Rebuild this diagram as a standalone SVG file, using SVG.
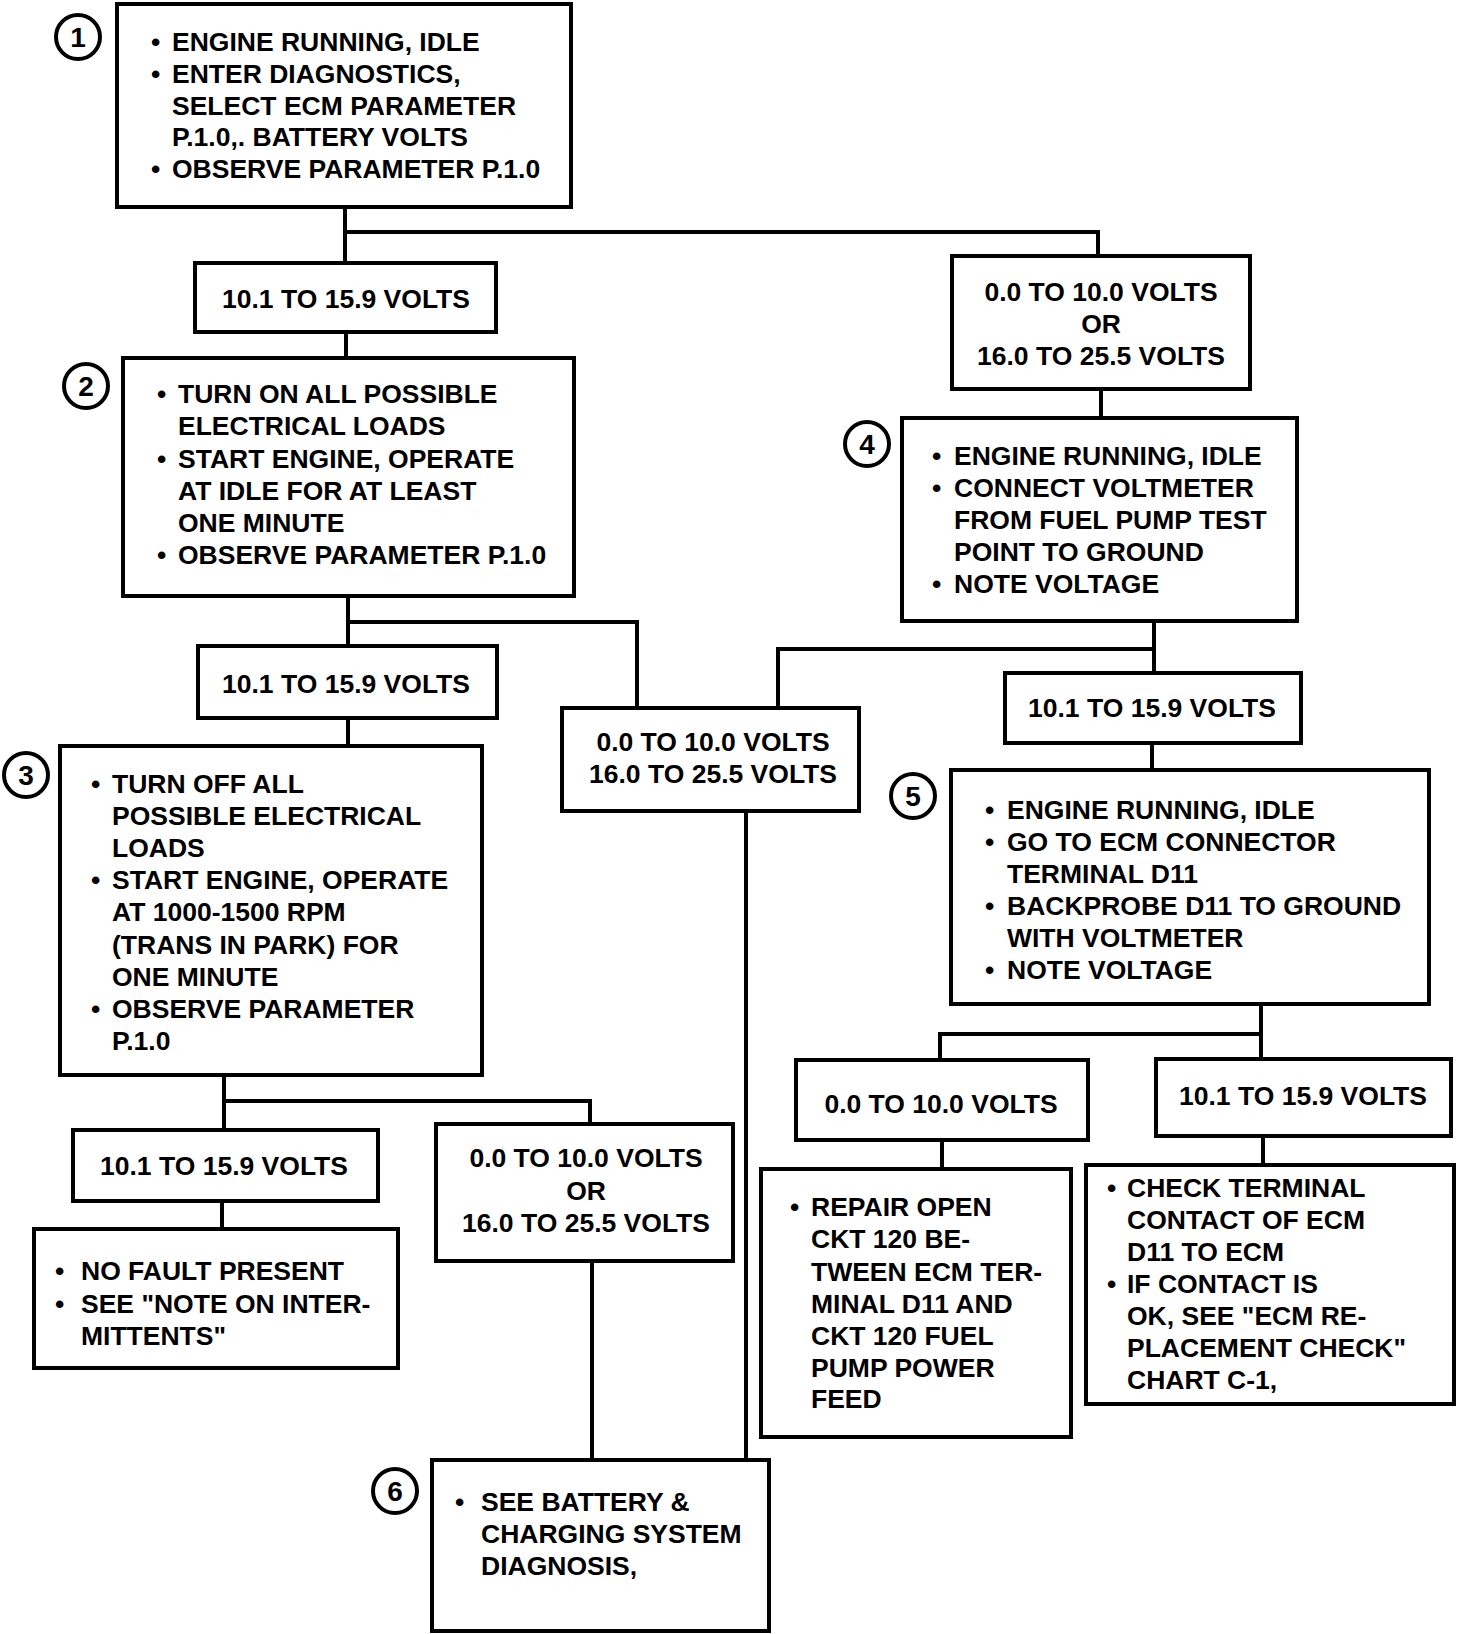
<svg xmlns="http://www.w3.org/2000/svg" width="1472" height="1634" viewBox="0 0 1472 1634">
<style>
.box{fill:#fff;stroke:#000;stroke-width:4}
.t{font-family:"Liberation Sans",Arial,sans-serif;font-weight:bold;font-size:26.5px;fill:#000}
.c{text-anchor:middle}
.num{fill:#fff;stroke:#000;stroke-width:4}
.nt{font-family:"Liberation Sans",Arial,sans-serif;font-weight:bold;font-size:28px;fill:#000;text-anchor:middle}
.ln{fill:none;stroke:#000;stroke-width:4}
</style>
<rect width="1472" height="1634" fill="#fff"/>
<g id="connectors">
<polyline class="ln" points="345,207 345,263"/>
<polyline class="ln" points="345,232 1098,232 1098,256"/>
<polyline class="ln" points="346,332 346,358"/>
<polyline class="ln" points="1101,389 1101,418"/>
<polyline class="ln" points="348,596 348,646"/>
<polyline class="ln" points="348,622 637,622 637,708"/>
<polyline class="ln" points="348,718 348,746"/>
<polyline class="ln" points="1154,621 1154,673"/>
<polyline class="ln" points="1154,649 778,649 778,708"/>
<polyline class="ln" points="1152,743 1152,770"/>
<polyline class="ln" points="746,811 746,1460"/>
<polyline class="ln" points="224,1075 224,1130"/>
<polyline class="ln" points="224,1101 590,1101 590,1124"/>
<polyline class="ln" points="222,1201 222,1229"/>
<polyline class="ln" points="592,1261 592,1460"/>
<polyline class="ln" points="1261,1004 1261,1059"/>
<polyline class="ln" points="1261,1034 940,1034 940,1060"/>
<polyline class="ln" points="942,1140 942,1169"/>
<polyline class="ln" points="1263,1136 1263,1165"/>
</g>
<g id="node1">
<rect class="box" x="117" y="4" width="454" height="203"/>
<circle class="num" cx="78" cy="37" r="22"/><text class="nt" x="78" y="47">1</text>
<text class="t" x="151" y="51">•</text><text class="t" x="172" y="51">ENGINE RUNNING, IDLE</text>
<text class="t" x="151" y="83">•</text><text class="t" x="172" y="83">ENTER DIAGNOSTICS,</text>
<text class="t" x="172" y="115">SELECT ECM PARAMETER</text>
<text class="t" x="172" y="146">P.1.0,. BATTERY VOLTS</text>
<text class="t" x="151" y="178">•</text><text class="t" x="172" y="178">OBSERVE PARAMETER P.1.0</text>
</g>
<g id="nodeA">
<rect class="box" x="195" y="263" width="301" height="69"/>
<text class="t c" x="346" y="308">10.1 TO 15.9 VOLTS</text>
</g>
<g id="nodeB">
<rect class="box" x="952" y="256" width="298" height="133"/>
<text class="t c" x="1101" y="301">0.0 TO 10.0 VOLTS</text>
<text class="t c" x="1101" y="333">OR</text>
<text class="t c" x="1101" y="365">16.0 TO 25.5 VOLTS</text>
</g>
<g id="node2">
<rect class="box" x="123" y="358" width="451" height="238"/>
<circle class="num" cx="86" cy="386" r="22"/><text class="nt" x="86" y="396">2</text>
<text class="t" x="157" y="403">•</text><text class="t" x="178" y="403">TURN ON ALL POSSIBLE</text>
<text class="t" x="178" y="435">ELECTRICAL LOADS</text>
<text class="t" x="157" y="468">•</text><text class="t" x="178" y="468">START ENGINE, OPERATE</text>
<text class="t" x="178" y="500">AT IDLE FOR AT LEAST</text>
<text class="t" x="178" y="532">ONE MINUTE</text>
<text class="t" x="157" y="564">•</text><text class="t" x="178" y="564">OBSERVE PARAMETER P.1.0</text>
</g>
<g id="node4">
<rect class="box" x="902" y="418" width="395" height="203"/>
<circle class="num" cx="867" cy="444" r="22"/><text class="nt" x="867" y="454">4</text>
<text class="t" x="932" y="465">•</text><text class="t" x="954" y="465">ENGINE RUNNING, IDLE</text>
<text class="t" x="932" y="497">•</text><text class="t" x="954" y="497">CONNECT VOLTMETER</text>
<text class="t" x="954" y="529">FROM FUEL PUMP TEST</text>
<text class="t" x="954" y="561">POINT TO GROUND</text>
<text class="t" x="932" y="593">•</text><text class="t" x="954" y="593">NOTE VOLTAGE</text>
</g>
<g id="nodeC">
<rect class="box" x="198" y="646" width="299" height="72"/>
<text class="t c" x="346" y="693">10.1 TO 15.9 VOLTS</text>
</g>
<g id="nodeD">
<rect class="box" x="562" y="708" width="297" height="103"/>
<text class="t c" x="713" y="751">0.0 TO 10.0 VOLTS</text>
<text class="t c" x="713" y="783">16.0 TO 25.5 VOLTS</text>
</g>
<g id="nodeE">
<rect class="box" x="1005" y="673" width="296" height="70"/>
<text class="t c" x="1152" y="717">10.1 TO 15.9 VOLTS</text>
</g>
<g id="node3">
<rect class="box" x="60" y="746" width="422" height="329"/>
<circle class="num" cx="26" cy="775" r="22"/><text class="nt" x="26" y="785">3</text>
<text class="t" x="91" y="793">•</text><text class="t" x="112" y="793">TURN OFF ALL</text>
<text class="t" x="112" y="825">POSSIBLE ELECTRICAL</text>
<text class="t" x="112" y="857">LOADS</text>
<text class="t" x="91" y="889">•</text><text class="t" x="112" y="889">START ENGINE, OPERATE</text>
<text class="t" x="112" y="921">AT 1000-1500 RPM</text>
<text class="t" x="112" y="954">(TRANS IN PARK) FOR</text>
<text class="t" x="112" y="986">ONE MINUTE</text>
<text class="t" x="91" y="1018">•</text><text class="t" x="112" y="1018">OBSERVE PARAMETER</text>
<text class="t" x="112" y="1050">P.1.0</text>
</g>
<g id="node5">
<rect class="box" x="951" y="770" width="478" height="234"/>
<circle class="num" cx="913" cy="796" r="22"/><text class="nt" x="913" y="806">5</text>
<text class="t" x="985" y="819">•</text><text class="t" x="1007" y="819">ENGINE RUNNING, IDLE</text>
<text class="t" x="985" y="851">•</text><text class="t" x="1007" y="851">GO TO ECM CONNECTOR</text>
<text class="t" x="1007" y="883">TERMINAL D11</text>
<text class="t" x="985" y="915">•</text><text class="t" x="1007" y="915">BACKPROBE D11 TO GROUND</text>
<text class="t" x="1007" y="947">WITH VOLTMETER</text>
<text class="t" x="985" y="979">•</text><text class="t" x="1007" y="979">NOTE VOLTAGE</text>
</g>
<g id="nodeF">
<rect class="box" x="796" y="1060" width="292" height="80"/>
<text class="t c" x="941" y="1113">0.0 TO 10.0 VOLTS</text>
</g>
<g id="nodeG">
<rect class="box" x="1156" y="1059" width="295" height="77"/>
<text class="t c" x="1303" y="1105">10.1 TO 15.9 VOLTS</text>
</g>
<g id="nodeH">
<rect class="box" x="761" y="1169" width="310" height="268"/>
<text class="t" x="790" y="1216">•</text><text class="t" x="811" y="1216">REPAIR OPEN</text>
<text class="t" x="811" y="1248">CKT 120 BE-</text>
<text class="t" x="811" y="1281">TWEEN ECM TER-</text>
<text class="t" x="811" y="1313">MINAL D11 AND</text>
<text class="t" x="811" y="1345">CKT 120 FUEL</text>
<text class="t" x="811" y="1377">PUMP POWER</text>
<text class="t" x="811" y="1408">FEED</text>
</g>
<g id="nodeI">
<rect class="box" x="1086" y="1165" width="368" height="239"/>
<text class="t" x="1107" y="1197">•</text><text class="t" x="1127" y="1197">CHECK TERMINAL</text>
<text class="t" x="1127" y="1229">CONTACT OF ECM</text>
<text class="t" x="1127" y="1261">D11 TO ECM</text>
<text class="t" x="1107" y="1293">•</text><text class="t" x="1127" y="1293">IF CONTACT IS</text>
<text class="t" x="1127" y="1325">OK, SEE "ECM RE-</text>
<text class="t" x="1127" y="1357">PLACEMENT CHECK"</text>
<text class="t" x="1127" y="1389">CHART C-1,</text>
</g>
<g id="nodeJ">
<rect class="box" x="73" y="1130" width="305" height="71"/>
<text class="t c" x="224" y="1175">10.1 TO 15.9 VOLTS</text>
</g>
<g id="nodeK">
<rect class="box" x="436" y="1124" width="297" height="137"/>
<text class="t c" x="586" y="1167">0.0 TO 10.0 VOLTS</text>
<text class="t c" x="586" y="1200">OR</text>
<text class="t c" x="586" y="1232">16.0 TO 25.5 VOLTS</text>
</g>
<g id="nodeL">
<rect class="box" x="34" y="1229" width="364" height="139"/>
<text class="t" x="55" y="1280">•</text><text class="t" x="81" y="1280">NO FAULT PRESENT</text>
<text class="t" x="55" y="1313">•</text><text class="t" x="81" y="1313">SEE "NOTE ON INTER-</text>
<text class="t" x="81" y="1345">MITTENTS"</text>
</g>
<g id="node6">
<rect class="box" x="432" y="1460" width="337" height="171"/>
<circle class="num" cx="395" cy="1491" r="22"/><text class="nt" x="395" y="1501">6</text>
<text class="t" x="455" y="1511">•</text><text class="t" x="481" y="1511">SEE BATTERY &amp;</text>
<text class="t" x="481" y="1543">CHARGING SYSTEM</text>
<text class="t" x="481" y="1575">DIAGNOSIS,</text>
</g>
</svg>
